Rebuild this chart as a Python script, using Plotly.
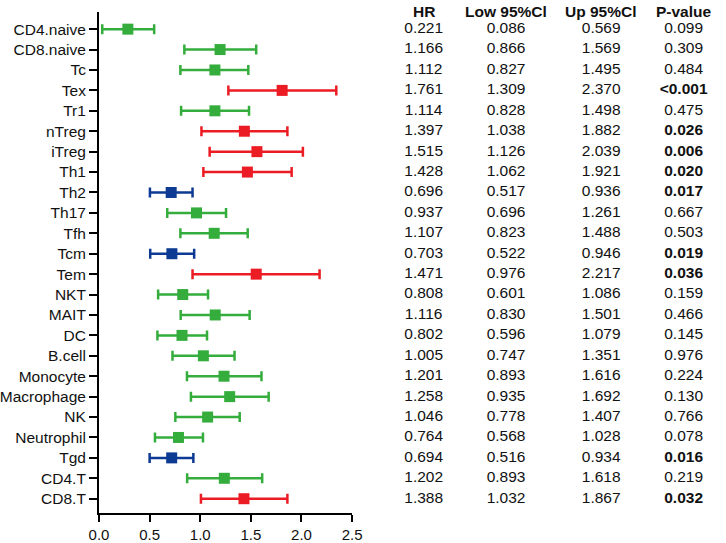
import plotly.graph_objects as go

# cell types, top to bottom
cells = ['CD4.naive', 'CD8.naive', 'Tc', 'Tex', 'Tr1', 'nTreg', 'iTreg', 'Th1', 'Th2', 'Th17',
         'Tfh', 'Tcm', 'Tem', 'NKT', 'MAIT', 'DC', 'B.cell', 'Monocyte', 'Macrophage', 'NK',
         'Neutrophil', 'Tgd', 'CD4.T', 'CD8.T']

# positions as drawn in the forest plot
plot_mid = [0.285, 1.196, 1.145, 1.809, 1.145, 1.436, 1.560, 1.466, 0.713, 0.963,
            1.138, 0.720, 1.553, 0.827, 1.148, 0.820, 1.031, 1.235, 1.291, 1.073,
            0.785, 0.718, 1.238, 1.432]
plot_low = [0.032, 0.843, 0.804, 1.278, 0.811, 1.012, 1.093, 1.031, 0.503, 0.674,
            0.804, 0.506, 0.924, 0.584, 0.807, 0.577, 0.726, 0.869, 0.908, 0.754,
            0.553, 0.500, 0.871, 1.007]
plot_high = [0.545, 1.553, 1.475, 2.344, 1.482, 1.861, 2.014, 1.903, 0.924, 1.255,
             1.469, 0.940, 2.179, 1.077, 1.488, 1.067, 1.339, 1.605, 1.676, 1.390,
             1.027, 0.932, 1.612, 1.861]

# table columns
hr = ['0.221', '1.166', '1.112', '1.761', '1.114', '1.397', '1.515', '1.428', '0.696', '0.937',
      '1.107', '0.703', '1.471', '0.808', '1.116', '0.802', '1.005', '1.201', '1.258', '1.046',
      '0.764', '0.694', '1.202', '1.388']
low_ci = ['0.086', '0.866', '0.827', '1.309', '0.828', '1.038', '1.126', '1.062', '0.517', '0.696',
          '0.823', '0.522', '0.976', '0.601', '0.830', '0.596', '0.747', '0.893', '0.935', '0.778',
          '0.568', '0.516', '0.893', '1.032']
up_ci = ['0.569', '1.569', '1.495', '2.370', '1.498', '1.882', '2.039', '1.921', '0.936', '1.261',
         '1.488', '0.946', '2.217', '1.086', '1.501', '1.079', '1.351', '1.616', '1.692', '1.407',
         '1.028', '0.934', '1.618', '1.867']
pval = ['0.099', '0.309', '0.484', '<0.001', '0.475', '0.026', '0.006', '0.020', '0.017', '0.667',
        '0.503', '0.019', '0.036', '0.159', '0.466', '0.145', '0.976', '0.224', '0.130', '0.766',
        '0.078', '0.016', '0.219', '0.032']

GREEN = '#35ad3c'
RED = '#ec1c24'
BLUE = '#0d3a93'
FONT = 'Arial, Liberation Sans, sans-serif'

rows = list(range(len(cells)))


def significant(p):
    return p.startswith('<') or float(p) < 0.05


colors = []
for h, p in zip(hr, pval):
    if not significant(p):
        colors.append(GREEN)
    elif float(h) > 1:
        colors.append(RED)
    else:
        colors.append(BLUE)

fig = go.Figure()

# one trace per colour so error bars get the right colour
for col in [GREEN, RED, BLUE]:
    idx = [i for i in rows if colors[i] == col]
    fig.add_trace(go.Scatter(
        x=[plot_mid[i] for i in idx],
        y=idx,
        mode='markers',
        marker=dict(symbol='square', size=11, color=col),
        error_x=dict(type='data', symmetric=False,
                     array=[plot_high[i] - plot_mid[i] for i in idx],
                     arrayminus=[plot_mid[i] - plot_low[i] for i in idx],
                     color=col, thickness=2.5, width=5),
        showlegend=False,
    ))

# table
col_x = [428, 512, 609, 693]
headers = ['HR', 'Low 95%Cl', 'Up 95%Cl', 'P-value']
for cx, head, vals in zip(col_x, headers, [hr, low_ci, up_ci, pval]):
    txt = []
    for v in vals:
        if head == 'P-value' and significant(v):
            txt.append('<b>' + v + '</b>')
        else:
            txt.append(v)
    fig.add_trace(go.Scatter(
        x=[cx] * len(rows), y=rows, mode='text', text=txt,
        textfont=dict(family=FONT, size=15.5, color='#111111'),
        xaxis='x2', showlegend=False, cliponaxis=False,
    ))
    fig.add_annotation(x=cx, y=1.0, xref='x2', yref='paper', yanchor='middle', yshift=1,
                       text='<b>' + head + '</b>', showarrow=False,
                       font=dict(family=FONT, size=15.5, color='#111111'))

fig.update_layout(
    width=726, height=543,
    margin=dict(l=97, r=0, t=12, b=28),
    paper_bgcolor='white', plot_bgcolor='white',
    font=dict(family=FONT, color='#111111'),
    xaxis=dict(domain=[0, (355 - 97) / 629], range=[0, 2.5], tickvals=[0, 0.5, 1, 1.5, 2, 2.5],
               ticktext=['0.0', '0.5', '1.0', '1.5', '2.0', '2.5'],
               showline=True, linecolor='black', linewidth=2, ticks='outside', ticklen=7,
               tickwidth=2, tickcolor='black', showgrid=False, zeroline=False,
               tickfont=dict(size=15)),
    xaxis2=dict(domain=[(361 - 97) / 629, 1], range=[361, 726], visible=False),
    yaxis=dict(range=[23.7, -0.84], tickvals=rows, ticktext=cells,
               showline=True, linecolor='black', linewidth=2, ticks='outside', ticklen=8,
               tickwidth=2, tickcolor='black', showgrid=False, zeroline=False,
               tickfont=dict(size=15.5)),
)

fig.write_html("out.html", config={'displayModeBar': False},
               post_script="document.body.style.margin='0';document.body.style.overflow='hidden';")
